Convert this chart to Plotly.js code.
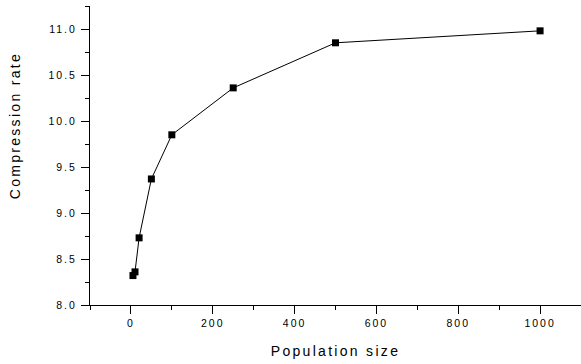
<!DOCTYPE html>
<html>
<head>
<meta charset="utf-8">
<script src="https://cdn.plot.ly/plotly-3.0.1.min.js"></script>
<style>
html,body{margin:0;padding:0;background:#fff;}
#chart{width:581px;height:364px;}
#chart text.xtitle, #chart text.annotation-text{letter-spacing:2.3px;}
#chart g.xtick text, #chart g.ytick text{letter-spacing:2px;}
</style>
</head>
<body>
<div id="chart"></div>
<script>
const populationSize = [5, 10, 20, 50, 100, 250, 500, 1000];
const compressionRate = [8.32, 8.36, 8.73, 9.37, 9.85, 10.36, 10.85, 10.98];
const xTickVals = [0, 200, 400, 600, 800, 1000];
const yTickVals = [8.0, 8.5, 9.0, 9.5, 10.0, 10.5, 11.0];
const xTitle = 'Population size';
const yTitle = 'Compression rate';

const trace = {
  x: populationSize,
  y: compressionRate,
  type: 'scatter',
  mode: 'lines+markers',
  line: {color: '#000', width: 1},
  marker: {symbol: 'square', size: 7, color: '#000'},
  cliponaxis: false,
  hoverinfo: 'none'
};

const tickFont = {family: 'Arial, Liberation Sans, sans-serif', size: 10.5, color: '#000'};
const titleFont = {family: 'Arial, Liberation Sans, sans-serif', size: 14, color: '#000'};

const layout = {
  width: 581,
  height: 364,
  margin: {l: 90, r: 0, t: 6, b: 59},
  paper_bgcolor: '#fff',
  plot_bgcolor: '#fff',
  showlegend: false,
  xaxis: {
    range: [-100, 1100],
    tickvals: xTickVals,
    ticktext: xTickVals.map(String),
    ticks: 'outside',
    ticklen: 8,
    tickwidth: 1,
    tickcolor: '#000',
    showline: true,
    linecolor: '#000',
    linewidth: 1,
    showgrid: false,
    zeroline: false,
    tickfont: tickFont,
    minor: {dtick: 100, tick0: 0, ticks: 'outside', ticklen: 4, tickcolor: '#000', showgrid: false},
    title: {text: xTitle, font: titleFont, standoff: 18}
  },
  yaxis: {
    range: [8.0, 11.25],
    tickvals: yTickVals,
    ticktext: yTickVals.map(v => v.toFixed(1)),
    ticks: 'outside',
    ticklen: 8,
    tickwidth: 1,
    tickcolor: '#000',
    showline: true,
    linecolor: '#000',
    linewidth: 1,
    showgrid: false,
    zeroline: false,
    tickfont: tickFont,
    ticklabelstandoff: 2,
    minor: {dtick: 0.25, tick0: 8, ticks: 'outside', ticklen: 4, tickcolor: '#000', showgrid: false}
  },
  annotations: [{
    text: yTitle,
    textangle: -90,
    xref: 'paper', yref: 'paper',
    x: -0.153, y: 0.602,
    xanchor: 'center', yanchor: 'middle',
    showarrow: false,
    font: titleFont
  }]
};

Plotly.newPlot('chart', [trace], layout, {staticPlot: true, displayModeBar: false});
</script>
</body>
</html>
